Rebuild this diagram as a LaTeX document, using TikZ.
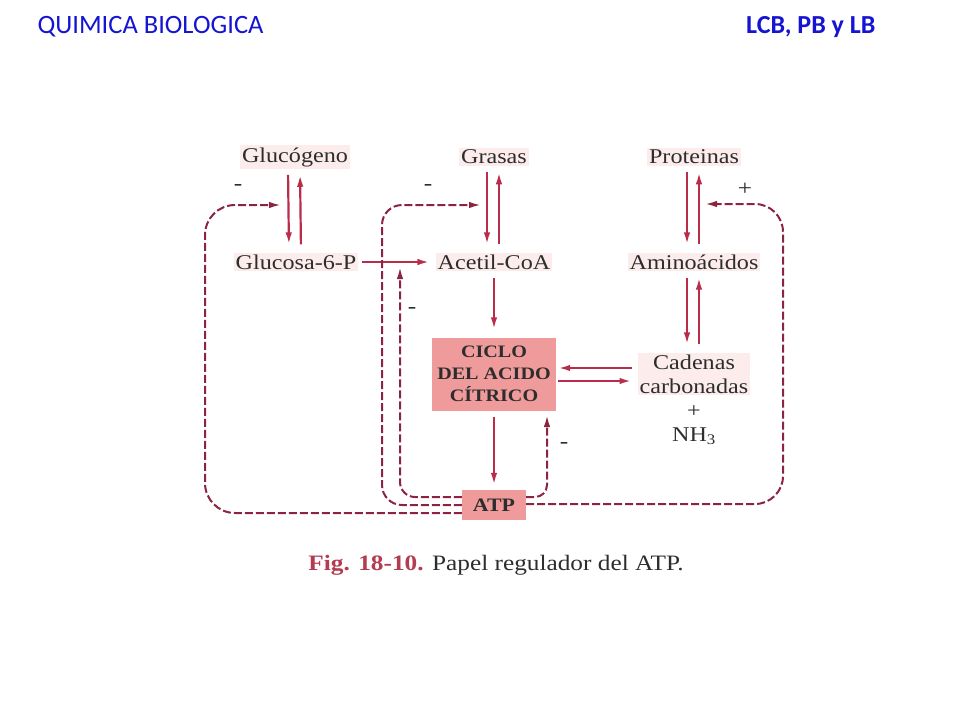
\documentclass[tikz,border=0pt]{standalone}
\usepackage{fontspec}
\setmainfont{Liberation Serif}
\newfontfamily\figfont{Liberation Serif}[FakeStretch=1.15]
\newfontfamily\headfont{Carlito}
\usetikzlibrary{arrows.meta,positioning}

\definecolor{headblue}{RGB}{20,20,210}
\definecolor{flowred}{RGB}{185,45,75}
\definecolor{fbred}{RGB}{140,35,65}
\definecolor{boxred}{RGB}{240,155,155}
\definecolor{tintred}{RGB}{252,236,236}
\definecolor{inkgray}{RGB}{45,45,45}
\definecolor{figred}{RGB}{180,60,80}

\begin{document}
\begin{tikzpicture}[x=1pt,y=-1pt]
            \tikzstyle{met}=[font=\figfont\fontsize{21}{24}\selectfont,text=inkgray,fill=tintred,inner sep=2pt,align=center]
            \tikzstyle{hot}=[rectangle,fill=boxred,text=inkgray,align=center]
            \tikzstyle{sign}=[font=\figfont\fontsize{22}{22}\selectfont,text=inkgray]
            \tikzstyle{head}=[font=\headfont\fontsize{26.5}{30}\selectfont,text=headblue]

            \tikzstyle{flow}=[-{Latex[length=12pt,width=6.5pt]},line width=2.2pt,draw=flowred]   % reaction
            \tikzstyle{fb}=[flow,draw=fbred,dash pattern=on 8pt off 3pt,line width=2pt]     % regulation

            \useasboundingbox (0,0) rectangle (960,720);

            \node[head,anchor=west] (title) at (34,27) {QUIMICA BIOLOGICA};
            \node[head,anchor=east,font=\headfont\bfseries\fontsize{26}{30}\selectfont] (course) at (879,27) {LCB, PB y LB};

            \node[met] (gly) at (295,157) {Glucógeno};
            \node[met] (fat) at (494,157) {Grasas};
            \node[met] (prot) at (694,157) {Proteinas};
            \node[met] (g6p) at (296,262) {Glucosa-6-P};
            \node[met] (aco) at (494,262) {Acetil-CoA};
            \node[met] (amino) at (694,262) {Aminoácidos};
            \node[hot,minimum width=124pt,minimum height=73pt,font=\figfont\bfseries\fontsize{17.5}{22}\selectfont] (tca) at (494,374) {CICLO\\DEL ACIDO\\CÍTRICO};
            \node[met] (chain) at (694,374) {Cadenas\\carbonadas};
            \node[met,fill=none,below=8pt of chain] (nh3) {+\\NH\textsubscript{3}};
            \node[hot,minimum width=64pt,minimum height=30pt,font=\figfont\bfseries\fontsize{19}{22}\selectfont] (atp) at (494,505) {ATP};

            \node[font=\figfont\fontsize{22}{26}\selectfont,text=inkgray] (cap) at (496,565) {{\color{figred}\bfseries Fig. 18-10.} Papel regulador del ATP.};

            \node[sign] (m1) at (238,187) {-};
            \node[sign] (m2) at (428,187) {-};
            \node[sign] (m3) at (412,310) {-};
            \node[sign] (m4) at (564,445) {-};
            \node[sign] (p1) at (745,189) {+};

            % reactions
            \foreach \a/\b in {gly/g6p,fat/aco,prot/amino,amino/chain}{
                \draw[flow,shorten <=6pt,shorten >=8pt] ([xshift=-7pt]\a.south) -- ([xshift=-7pt]\b.north);
                \draw[flow,shorten <=8pt,shorten >=6pt] ([xshift=5pt]\b.north) -- ([xshift=5pt]\a.south);
            }
            \draw[flow,shorten <=3pt,shorten >=6pt] (g6p) -- (aco);
            \draw[flow,shorten <=6pt,shorten >=8pt] (aco) -- (tca);
            \draw[flow,shorten <=6pt,shorten >=5pt] (tca) -- (atp);
            \draw[flow,shorten <=6pt,shorten >=2pt] ([yshift=6pt]chain.west) -- ([yshift=6pt]tca.east);
            \draw[flow,shorten <=2pt,shorten >=6pt] ([yshift=-7pt]tca.east) -- ([yshift=-7pt]chain.west);

            % ATP feedback
            \coordinate (in1) at (281,205);
            \coordinate (in2) at (481,205);
            \coordinate (in3) at (400,267);
            \coordinate (in4) at (705,204);
            \coordinate (in5) at (547,415);

            \draw[fb,rounded corners=30pt] ([yshift=-8pt]atp.west) -| (205,205) -- (in1);
            \draw[fb,rounded corners=20pt] (atp.west) -| (382,205) -- (in2);
            \draw[fb,rounded corners=15pt] ([yshift=8pt]atp.west) -| (in3);
            \draw[fb,rounded corners=28pt] ([yshift=1pt]atp.east) -| (783,204) -- (in4);
            \draw[fb,rounded corners=12pt] ([yshift=8pt]atp.east) -| (in5);
        \end{tikzpicture}
\end{document}
